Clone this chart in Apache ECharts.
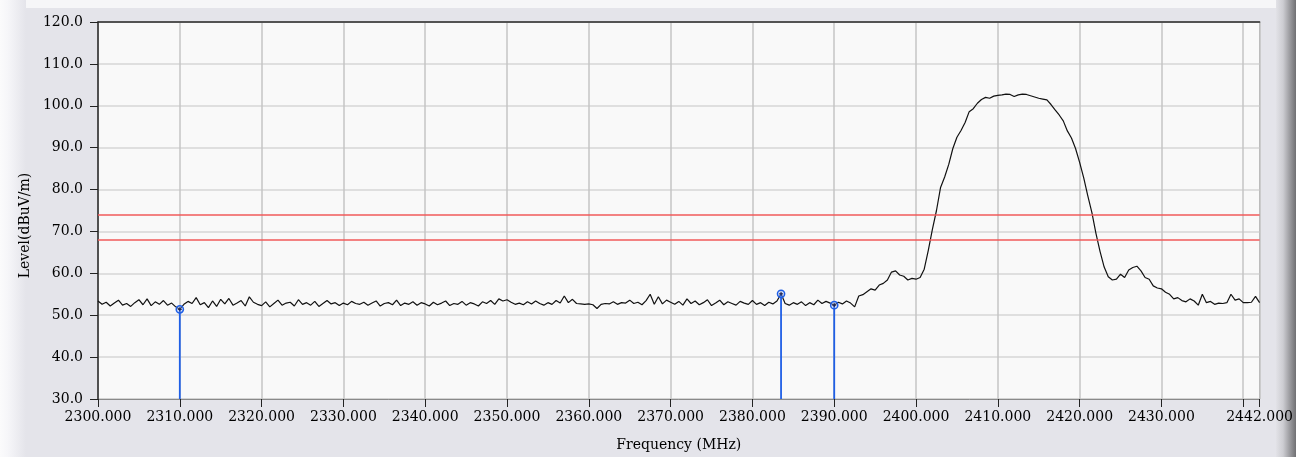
<!DOCTYPE html>
<html>
<head>
<meta charset="utf-8">
<title>Spectrum scan 2300–2442 MHz</title>
<script src="https://cdn.jsdelivr.net/npm/echarts@6/dist/echarts.min.js"></script>
<style>
  html, body { margin: 0; padding: 0; background: #e4e4ea; }
  #chart { width: 1296px; height: 457px; }
</style>
</head>
<body>
<div id="chart"></div>
<script>
// Sweep settings of the analyzer trace (MHz)
const SWEEP_START = 2300;
const SWEEP_STEP = 0.5;

// Measured level per sweep point (dBuV/m), one row per 10 MHz
const traceLevels = [
  53.4, 52.6, 53.1, 52.2, 52.9, 53.6, 52.4, 52.8, 52.1, 53.0, 53.7, 52.5, 53.9, 52.3, 53.2, 52.6, 53.5, 52.4, 52.9, 52.0,
  51.4, 52.6, 53.3, 52.8, 54.2, 52.5, 53.0, 51.8, 53.4, 52.1, 53.8, 52.7, 54.0, 52.4, 52.9, 53.5, 52.2, 54.4, 53.1, 52.6,
  52.3, 53.2, 52.0, 52.8, 53.6, 52.4, 52.9, 53.1, 52.2, 53.7, 52.6, 53.0, 52.4, 53.3, 52.1, 52.8, 53.5, 52.7, 53.0, 52.3,
  52.9, 52.5, 53.3, 52.8, 52.6, 53.1, 52.4, 52.9, 53.4, 52.2, 52.8, 53.0, 52.5, 53.6, 52.3, 52.9, 52.6, 53.2, 52.4, 53.0,
  52.7, 52.2, 53.1, 52.5, 52.9, 53.4, 52.3, 52.8, 52.6, 53.3, 52.4, 53.0, 52.7, 52.2, 53.2, 52.8, 53.5, 52.6, 53.9, 53.4,
  53.7, 53.1, 52.6, 52.9, 52.5, 53.2, 52.7, 53.4, 52.8, 52.4, 53.0, 52.6, 53.5, 52.9, 54.6, 53.0, 53.8, 52.8, 52.7, 52.6,
  52.7, 52.5, 51.6, 52.6, 52.8, 52.7, 53.2, 52.6, 53.0, 52.9, 53.6, 52.8, 53.1, 52.5, 53.5, 55.0, 52.6, 54.4, 52.7, 53.6,
  53.1, 52.6, 53.3, 52.4, 53.9, 52.8, 53.4, 52.5, 53.0, 53.7, 52.3, 52.9, 53.6, 52.5, 53.2, 52.8, 52.4, 53.3, 52.9, 52.6,
  53.5, 52.6, 53.0, 52.3, 53.1, 52.7, 53.4, 55.1, 52.8, 52.4, 53.0, 52.6, 53.2, 52.3, 53.0, 52.5, 53.6, 52.8, 53.3, 52.9,
  52.4, 53.1, 52.7, 53.4, 52.9, 52.0, 54.6, 54.9, 55.6, 56.3, 56.0, 57.2, 57.6, 58.4, 60.3, 60.6, 59.6, 59.3, 58.4, 58.8,
  58.6, 59.0, 61.0, 65.5, 70.5, 75.0, 80.5, 83.0, 86.0, 89.8, 92.5, 94.1, 96.0, 98.6, 99.3, 100.6, 101.5, 102.0, 101.8, 102.3,
  102.5, 102.6, 102.8, 102.7, 102.2, 102.6, 102.8, 102.7, 102.4, 102.1, 101.8, 101.6, 101.4, 100.3, 99.0, 97.8, 96.4, 94.0, 92.3, 89.8,
  86.5, 82.8, 78.5, 74.5, 69.5, 65.2, 61.5, 59.2, 58.4, 58.6, 59.8, 59.0, 60.8, 61.4, 61.7, 60.6, 59.0, 58.6, 57.0, 56.5,
  56.3, 55.5, 55.0, 53.9, 54.2, 53.5, 53.2, 53.9, 53.4, 52.4, 55.0, 53.0, 53.3, 52.6, 52.9, 52.8, 53.0, 55.0, 53.6, 53.9,
  53.0, 53.0, 53.1, 54.5, 53.0
];

// Marker readouts
const markerFreqs = [2310.0, 2383.5, 2390.0];
const markerLevels = [51.4, 55.1, 52.4];

// Limit lines (dBuV/m)
const limitLevels = [74, 68];

// Axis ranges and ticks
const FREQ_MIN = 2300, FREQ_MAX = 2442, FREQ_TICK = 10;
const LEVEL_MIN = 30, LEVEL_MAX = 120, LEVEL_TICK = 10;
const hiddenFreqLabels = [2440];

const tracePoints = traceLevels.map((lv, i) => [SWEEP_START + i * SWEEP_STEP, lv]);
const markerPoints = markerFreqs.map((f, i) => [f, markerLevels[i]]);

const FONT = '"DejaVu Serif", "Liberation Serif", serif';
const BLUE = '#1f5fe6';

const chart = echarts.init(document.getElementById('chart'), null, { renderer: 'canvas' });

chart.setOption({
  backgroundColor: '#e4e4ea',
  animation: false,
  graphic: [
    // panel bevels
    { type: 'rect', z: -10, shape: { x: 0, y: 0, width: 1296, height: 8 }, style: { fill: '#f6f6f8' } },
    { type: 'rect', z: -10, shape: { x: 0, y: 0, width: 26, height: 457 },
      style: { fill: new echarts.graphic.LinearGradient(0, 0, 1, 0, [
        { offset: 0, color: '#fbfbfc' }, { offset: 0.3, color: '#f6f6f9' }, { offset: 1, color: '#e4e4ea' }]) } },
    { type: 'rect', z: -10, shape: { x: 1276, y: 0, width: 20, height: 457 },
      style: { fill: new echarts.graphic.LinearGradient(0, 0, 1, 0, [
        { offset: 0, color: '#e2e2e7' }, { offset: 0.35, color: '#cdcdd2' }, { offset: 0.7, color: '#9a9a9e' }, { offset: 1, color: '#707073' }]) } }
  ],
  grid: {
    left: 98, right: 34, top: 22, bottom: 58,
    show: true, backgroundColor: '#f9f9f9', borderColor: '#9a9a9a', borderWidth: 1
  },
  xAxis: [{
    type: 'value', min: FREQ_MIN, max: FREQ_MAX, interval: FREQ_TICK,
    name: 'Frequency (MHz)', nameLocation: 'middle', nameGap: 39,
    nameTextStyle: { fontFamily: FONT, fontSize: 14, color: '#000' },
    axisLine: { show: true, onZero: false, lineStyle: { color: '#8a8a8a', width: 1 } },
    axisTick: { show: true, length: 8, lineStyle: { color: '#222', width: 1 } },
    axisLabel: {
      fontFamily: FONT, fontSize: 14, color: '#000', margin: 11,
      showMinLabel: true, showMaxLabel: true, hideOverlap: false,
      formatter: v => hiddenFreqLabels.includes(v) ? '' : v.toFixed(3)
    },
    splitLine: { show: true, lineStyle: { color: '#c4c4c4', width: 1.5 } }
  }, {
    // dark top edge of the plotting frame
    type: 'value', min: FREQ_MIN, max: FREQ_MAX, position: 'top',
    axisLine: { show: true, onZero: false, lineStyle: { color: '#2a2a2a', width: 1.5 } },
    axisTick: { show: false }, axisLabel: { show: false }, splitLine: { show: false }
  }],
  yAxis: {
    type: 'value', min: LEVEL_MIN, max: LEVEL_MAX, interval: LEVEL_TICK,
    name: 'Level(dBuV/m)', nameLocation: 'middle', nameGap: 64, nameRotate: 90,
    nameTextStyle: { fontFamily: FONT, fontSize: 14, color: '#000', padding: [0, 30, 0, 0] },
    axisLine: { show: true, onZero: false, lineStyle: { color: '#2a2a2a', width: 1.5 } },
    axisTick: { show: true, length: 8, lineStyle: { color: '#222', width: 1 } },
    axisLabel: { fontFamily: FONT, fontSize: 14, color: '#000', margin: 15,
      formatter: v => v.toFixed(1) },
    splitLine: { show: true, lineStyle: { color: '#d6d6d6', width: 1.5 } }
  },
  series: [{
    name: 'Trace',
    type: 'line',
    data: tracePoints,
    showSymbol: false,
    smooth: false,
    lineStyle: { color: '#111', width: 1.2 },
    z: 3,
    markLine: {
      silent: true,
      symbol: 'none',
      label: { show: false },
      lineStyle: { color: '#f05a5a', width: 1.5, type: 'solid' },
      data: limitLevels.map(v => ({ yAxis: v }))
    }
  }, {
    name: 'Markers',
    type: 'custom',
    data: markerPoints,
    z: 5,
    renderItem: (params, api) => {
      const tip = api.coord([api.value(0), api.value(1)]);
      const base = api.coord([api.value(0), LEVEL_MIN]);
      return {
        type: 'group',
        children: [
          { type: 'line', shape: { x1: base[0], y1: base[1], x2: tip[0], y2: tip[1] },
            style: { stroke: BLUE, lineWidth: 1.8 } },
          { type: 'circle', shape: { cx: tip[0], cy: tip[1], r: 3.6 },
            style: { fill: 'rgba(150,180,255,0.35)', stroke: BLUE, lineWidth: 1.5 } },
          { type: 'line', shape: { x1: tip[0] - 2, y1: tip[1], x2: tip[0] + 2, y2: tip[1] },
            style: { stroke: '#1a1a40', lineWidth: 1 } },
          { type: 'line', shape: { x1: tip[0], y1: tip[1] - 2, x2: tip[0], y2: tip[1] + 2 },
            style: { stroke: '#1a1a40', lineWidth: 1 } }
        ]
      };
    }
  }]
});
</script>
</body>
</html>
